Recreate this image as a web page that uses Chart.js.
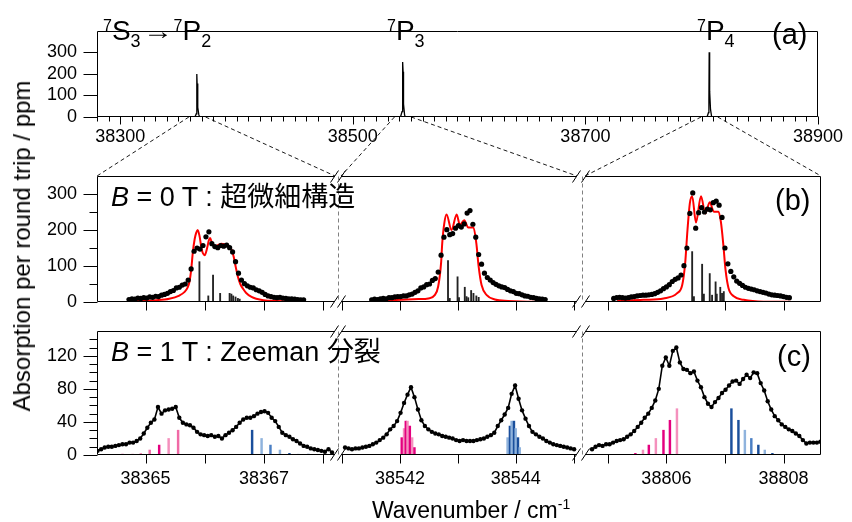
<!DOCTYPE html>
<html><head><meta charset="utf-8">
<script src="https://cdn.jsdelivr.net/npm/chart.js@4.4.0/dist/chart.umd.min.js"></script>
<style>
html,body{margin:0;padding:0;background:#fff;}
#wrap{position:relative;width:852px;height:522px;overflow:hidden;background:#fff;font-family:'Liberation Sans',Arial,'Noto Sans CJK JP',sans-serif;color:#000;}
canvas{position:absolute;left:0;top:0;}
.t{position:absolute;white-space:nowrap;line-height:1;}
.sm{position:relative;}
.arr{display:inline-block;transform:scaleX(1.25);margin:0 4px 0 5px;font-size:24px;position:relative;top:-1px;}
</style></head><body>
<div id="wrap">
<canvas id="cA" width="852" height="522"></canvas>
<canvas id="cB1" width="852" height="522"></canvas>
<canvas id="cB2" width="852" height="522"></canvas>
<canvas id="cB3" width="852" height="522"></canvas>
<canvas id="cC1" width="852" height="522"></canvas>
<canvas id="cC2" width="852" height="522"></canvas>
<canvas id="cC3" width="852" height="522"></canvas>
<canvas id="cOv" width="852" height="522"></canvas>

<div class="t" style="left:103px;top:17px;font-size:28px;"><span class="sm" style="font-size:16px;top:-9px;">7</span>S<span class="sm" style="font-size:18px;top:7px;">3</span><span class="arr">→</span><span class="sm" style="font-size:16px;top:-9px;">7</span>P<span class="sm" style="font-size:18px;top:7px;">2</span></div>
<div class="t" style="left:387px;top:17px;font-size:28px;"><span class="sm" style="font-size:16px;top:-9px;">7</span>P<span class="sm" style="font-size:18px;top:7px;">3</span></div>
<div class="t" style="left:697px;top:17px;font-size:28px;"><span class="sm" style="font-size:16px;top:-9px;">7</span>P<span class="sm" style="font-size:18px;top:7px;">4</span></div>
<div class="t" style="left:772px;top:20px;font-size:29px;">(a)</div>
<div class="t" style="left:775px;top:186px;font-size:29px;">(b)</div>
<div class="t" style="left:777px;top:342px;font-size:29px;">(c)</div>
<div class="t" style="left:111px;top:184px;font-size:27px;"><i>B</i> = 0 T : 超微細構造</div>
<div class="t" style="left:111px;top:339px;font-size:27px;"><i>B</i> = 1 T : Zeeman 分裂</div>
<div class="t" style="left:372px;top:499px;font-size:23px;">Wavenumber / cm<span class="sm" style="font-size:14px;top:-9px;">-1</span></div>
<div class="t" style="left:22px;top:246px;font-size:24px;transform:translate(-50%,-50%) rotate(-90deg);">Absorption per round trip / ppm</div>
</div>
<script>
// ================= DATA =================
// (a) overview spectrum
const aX = [38280, 38364.2, 38365.4, 38365.7, 38365.85, 38365.95, 38366.1, 38366.5, 38366.8, 38367.5, 38368.2,
  38541.0, 38542.3, 38542.7, 38542.85, 38543.0, 38543.25, 38543.6, 38544.5, 38545.1,
  38804.6, 38805.8, 38806.2, 38806.45, 38806.6, 38806.85, 38807.1, 38807.6, 38808.6, 38900];
const aY = [0, 0, 15, 45, 140, 200, 155, 150, 45, 12, 0,
  0, 25, 80, 200, 255, 210, 60, 10, 0,
  0, 20, 80, 300, 260, 270, 120, 35, 0, 0];
const aTickLabels = [38300, 38500, 38700, 38900];

// (b) B = 0 T, 7P2
const b1X = [38364.72,38364.77,38364.82,38364.87,38364.92,38364.97,38365.02,38365.07,38365.12,38365.17,
  38365.22,38365.27,38365.32,38365.37,38365.42,38365.47,38365.52,38365.57,38365.62,38365.67,
  38365.72,38365.77,38365.82,38365.87,38365.92,38365.97,38366.02,38366.07,38366.12,38366.17,
  38366.22,38366.27,38366.32,38366.37,38366.42,38366.47,38366.52,38366.57,38366.62,38366.67,
  38366.72,38366.77,38366.82,38366.87,38366.92,38366.97,38367.02,38367.07,38367.12,38367.17,
  38367.22,38367.27,38367.32,38367.37,38367.42,38367.47,38367.52,38367.57,38367.62,38367.67];
const b1Y = [7,9,8,11,10,12,11,14,13,16, 15,19,21,24,29,32,39,41,47,50, 61,92,141,150,147,157,181,195,162,154,
  151,157,155,158,151,139,112,80,61,51, 45,41,39,34,31,27,21,17,15,13, 12,13,11,10,9,9,8,7,6,6];
const b1FitX = [38364.72,38365.18,38365.40,38365.57,38365.66,38365.71,38365.74,38365.77,38365.80,38365.83,38365.855,38365.88,
  38365.91,38365.95,38366.00,38366.04,38366.07,38366.09,38366.12,38366.17,38366.22,38366.28,38366.34,38366.39,
  38366.45,38366.49,38366.52,38366.56,38366.60,38366.65,38366.70,38366.79,38366.87,38366.99,38367.21,38367.67];
const b1FitY = [2,5,9,18,28,40,55,88,140,175,192,200, 185,145,130,150,172,178,165,155,158,162,160,157,
  146,125,100,70,50,36,25,14,9,5,3,2];
const b1StickX = [38365.91,38366.06,38366.14,38366.26,38366.42,38366.45,38366.48,38366.52,38366.56,38366.59];
const b1StickY = [112,17,75,24,24,22,17,14,10,8];

// (b) 7P3
const b2X = [38541.51,38541.56,38541.61,38541.66,38541.71,38541.76,38541.81,38541.86,38541.91,38541.96,
  38542.01,38542.06,38542.11,38542.16,38542.21,38542.26,38542.31,38542.36,38542.41,38542.46,
  38542.51,38542.56,38542.61,38542.66,38542.71,38542.76,38542.81,38542.86,38542.91,38542.96,
  38543.01,38543.06,38543.11,38543.16,38543.21,38543.26,38543.31,38543.36,38543.41,38543.46,
  38543.51,38543.56,38543.61,38543.66,38543.71,38543.76,38543.81,38543.86,38543.91,38543.96,
  38544.01,38544.06,38544.11,38544.16,38544.21,38544.26,38544.31,38544.36,38544.41,38544.46,38544.51];
const b2Y = [6,8,7,9,10,9,12,12,14,15, 15,17,17,20,22,27,31,39,42,48, 50,60,65,83,130,180,201,187,190,205,
  212,208,217,247,254,216,180,132,105,80, 68,61,54,49,45,42,40,35,31,29, 24,23,20,17,16,13,12,10,9,8, 7];
const b2FitX = [38541.57,38542.03,38542.32,38542.49,38542.60,38542.66,38542.71,38542.73,38542.765,38542.805,
  38542.89,38542.98,38543.035,38543.11,38543.18,38543.27,38543.32,38543.36,38543.41,38543.50,38543.64,38543.87,38544.33,38544.50];
const b2FitY = [3,6,8,10,19,43,108,163,218,243, 200,243,214,227,207,207,163,98,47,19,7,3,1,1];
const b2StickX = [38542.83,38542.86,38542.995,38543.02,38543.12,38543.15,38543.18,38543.23,38543.27,38543.32,38543.36];
const b2StickY = [115,10,70,12,41,15,12,32,24,17,13];

// (b) 7P4
const b3X = [38805.10,38805.15,38805.20,38805.25,38805.30,38805.35,38805.40,38805.45,38805.50,38805.55,
  38805.60,38805.65,38805.70,38805.75,38805.80,38805.85,38805.90,38805.95,38806.00,38806.05,
  38806.10,38806.15,38806.20,38806.25,38806.30,38806.35,38806.40,38806.45,38806.50,38806.55,
  38806.60,38806.65,38806.70,38806.75,38806.80,38806.85,38806.90,38806.95,38807.00,38807.05,
  38807.10,38807.15,38807.20,38807.25,38807.30,38807.35,38807.40,38807.45,38807.50,38807.55,
  38807.60,38807.65,38807.70,38807.75,38807.80,38807.85,38807.90,38807.95,38808.00,38808.05,38808.10];
const b3Y = [10,12,13,12,11,12,14,15,17,18, 19,19,20,21,23,27,31,37,42,48, 57,63,67,75,101,150,246,303,205,248,
  262,250,258,256,276,280,269,235,150,106, 85,70,58,52,46,41,38,36,34,31, 29,27,25,22,20,19,18,17,15,13, 12];
const b3FitX = [38805.16,38805.61,38805.95,38806.18,38806.27,38806.32,38806.36,38806.40,38806.44,38806.505,
  38806.59,38806.665,38806.74,38806.81,38806.89,38806.93,38806.97,38807.01,38807.06,38807.15,38807.32,38807.66,38808.12];
const b3FitY = [3,6,10,24,47,107,200,274,294,221, 294,246,277,251,251,223,163,89,39,16,6,1,1];
const b3StickX = [38806.44,38806.47,38806.61,38806.64,38806.74,38806.78,38806.84,38806.86,38806.92,38806.95,38806.98];
const b3StickY = [140,15,105,22,79,19,56,22,41,24,29];

// (c) B = 1 T, 7P2
const c1X = [38364.19,38364.25,38364.31,38364.37,38364.43,38364.49,38364.55,38364.61,38364.67,38364.73,
  38364.79,38364.85,38364.91,38364.97,38365.03,38365.09,38365.15,38365.21,38365.27,38365.33,
  38365.39,38365.45,38365.51,38365.57,38365.63,38365.69,38365.75,38365.81,38365.87,38365.93,
  38365.99,38366.05,38366.11,38366.17,38366.23,38366.29,38366.35,38366.41,38366.47,38366.53,
  38366.59,38366.65,38366.71,38366.77,38366.83,38366.89,38366.95,38367.01,38367.07,38367.13,
  38367.19,38367.25,38367.31,38367.37,38367.43,38367.49,38367.55,38367.61,38367.67,38367.73,
  38367.79,38367.85,38367.91,38367.97,38368.03,38368.09,38368.15];
const c1Y = [5,7,9,10,10,11,12,13,13,15, 15,17,20,26,33,39,43,58,50,54, 55,56,58,45,39,37,36,33,28,25,
  24,23,24,22,23,20,24,27,30,34, 39,43,45,45,47,50,52,53,51,45, 41,34,27,24,22,19,17,14,11,10, 8,7,6,5,4,7,3];
const c1StickX = [38364.61,38364.78,38364.92,38365.07,38365.23,38365.39,38365.55,
  38366.80,38366.96,38367.11,38367.27,38367.43,38367.58,38367.75];
const c1StickY = [1,1,2,6,12,20,30, 30,20,12,6,2,1,1];

// (c) 7P3
const c2X = [38541.05,38541.11,38541.17,38541.23,38541.29,38541.35,38541.41,38541.47,38541.53,38541.59,
  38541.65,38541.71,38541.77,38541.83,38541.89,38541.95,38542.01,38542.07,38542.13,38542.19,
  38542.25,38542.31,38542.37,38542.43,38542.49,38542.55,38542.61,38542.67,38542.73,38542.79,
  38542.85,38542.91,38542.97,38543.03,38543.09,38543.15,38543.21,38543.27,38543.33,38543.39,
  38543.45,38543.51,38543.57,38543.63,38543.69,38543.75,38543.81,38543.87,38543.93,38543.99,
  38544.05,38544.11,38544.17,38544.23,38544.29,38544.35,38544.41,38544.47,38544.53,38544.59,
  38544.65,38544.71,38544.77,38544.83,38544.89,38544.95,38545.01];
const c2Y = [9,8,7,8,8,9,10,11,13,15, 18,21,25,31,35,41,51,63,73,82, 70,55,42,35,31,28,26,25,23,22,
  21,20,18,17,18,17,17,17,18,19, 20,22,24,27,35,42,49,57,74,84, 68,54,44,35,28,25,22,20,17,15, 13,12,11,10,9,8,7];
const c2StickX = [38542.03,38542.07,38542.10,38542.13,38542.17,38542.21,38542.25,
  38543.86,38543.90,38543.93,38543.97,38544.00,38544.04,38544.07];
const c2StickY = [21,32,41,41,35,21,9, 21,35,41,41,32,21,9];

// (c) 7P4
const c3X = [38804.73,38804.79,38804.85,38804.91,38804.97,38805.03,38805.09,38805.15,38805.21,38805.27,
  38805.33,38805.39,38805.45,38805.51,38805.57,38805.63,38805.69,38805.75,38805.81,38805.87,
  38805.93,38805.99,38806.05,38806.11,38806.17,38806.23,38806.29,38806.35,38806.41,38806.47,
  38806.53,38806.59,38806.65,38806.71,38806.77,38806.83,38806.89,38806.95,38807.01,38807.07,
  38807.13,38807.19,38807.25,38807.31,38807.37,38807.43,38807.49,38807.55,38807.61,38807.67,
  38807.73,38807.79,38807.85,38807.91,38807.97,38808.03,38808.09,38808.15,38808.21,38808.27,
  38808.33,38808.39,38808.45,38808.51,38808.57,38808.63];
const c3Y = [7,10,12,11,13,13,15,17,18,19, 22,25,29,34,39,45,50,57,66,80, 108,118,108,126,130,112,104,103,99,101,
  90,82,70,62,58,64,69,75,79,84, 89,90,86,92,97,93,100,99,87,78, 65,55,47,42,37,34,31,29,26,23, 18,14,15,15,15,16];
const c3StickX = [38805.47,38805.60,38805.70,38805.82,38805.95,38806.06,38806.18,
  38807.11,38807.23,38807.34,38807.45,38807.57,38807.68,38807.81];
const c3StickY = [2,6,12,20,30,42,56, 56,42,30,20,12,6,2];

// axis ranges and tick labels for the broken axes
const segRanges = [[38364.18, 38368.20], [38540.98, 38545.06], [38804.61, 38808.64]];
const cTickLabels = [[38365, 38367], [38542, 38544], [38806, 38808]];
const bYLabels = [0, 100, 200, 300];
const cYLabels = [0, 40, 80, 120];
const aYLabels = [0, 100, 200, 300];

// ================= STYLE =================
const HOT = '#e4007f', PMID = '#f06aa6', PLT = '#f490bd';
const BDK = '#1a4f9c', BMD = '#4a7fc4', BLT = '#8fb3dd';
const c1Colors = [HOT, PMID, PLT, PMID, HOT, PLT, PMID, BDK, BLT, BMD, BLT, BDK, BLT, BDK];
const c2Colors = [HOT, PLT, HOT, PLT, HOT, PLT, HOT, BLT, BDK, BLT, BDK, BLT, BDK, BLT];
const c3Colors = [HOT, PLT, HOT, PLT, HOT, HOT, PLT, BDK, BDK, BLT, BMD, BDK, BLT, BDK];

const W = 852, H = 522, X_H = 40;
Chart.defaults.font.family = "'Liberation Sans', Arial, sans-serif";
Chart.defaults.font.size = 18;
Chart.defaults.color = '#000';

const pts = (xs, ys) => xs.map((x, i) => ({x, y: ys[i]}));

const deco = {
  id: 'deco',
  afterDraw(chart, args, o) {
    const ctx = chart.ctx, ca = chart.chartArea;
    const L = Math.round(ca.left) + 0.5, R = Math.round(ca.right) - 0.5;
    const T = Math.round(ca.top) + 0.5, Bm = Math.round(ca.bottom) - 0.5;
    const ln = (x1, y1, x2, y2) => { ctx.beginPath(); ctx.moveTo(x1, y1); ctx.lineTo(x2, y2); ctx.stroke(); };
    ctx.save();
    ctx.strokeStyle = '#000'; ctx.lineWidth = 1; ctx.setLineDash([]);
    ln(L, T, R, T); ln(L, Bm, R, Bm);
    if (o.left) ln(L, T, L, Bm);
    if (o.right) ln(R, T, R, Bm);
    const xs = chart.scales.x, ys = chart.scales.y;
    xs.ticks.forEach(t => {
      const p = Math.round(xs.getPixelForValue(t.value)) + 0.5;
      const len = t.label !== '' ? o.xMajor : o.xMinor;
      ln(p, Bm, p, Bm + len);
    });
    if (o.left) ys.ticks.forEach(t => {
      if (t.value >= ys.max) return;
      const p = Math.round(ys.getPixelForValue(t.value)) + 0.5;
      const len = t.label !== '' ? o.yMajor : o.yMinor;
      ln(L - len, p, L, p);
    });
    const slash = (x, y) => ln(x - 4, y + 6, x + 4, y - 6);
    if (o.breakL) { slash(L, T); slash(L, Bm); }
    if (o.breakR) { slash(R, T); slash(R, Bm); }
    if (o.dash) {
      ctx.strokeStyle = '#808080'; ctx.setLineDash([4, 3]);
      ln(L - 3, T, L - 3, Bm);
    }
    ctx.restore();
  }
};

function makeChart(id, p) {
  return new Chart(document.getElementById(id), {
    type: 'scatter',
    data: { datasets: p.datasets },
    options: {
      responsive: false, animation: false, devicePixelRatio: 1, events: [],
      layout: { padding: { left: p.showY ? 0 : p.l, right: W - p.r, top: p.t, bottom: H - p.b - X_H } },
      plugins: { legend: { display: false }, tooltip: { enabled: false }, deco: p.deco },
      scales: {
        x: {
          type: 'linear', min: p.xr[0], max: p.xr[1], offset: false,
          grid: { display: false, drawTicks: false }, border: { display: false },
          ticks: { stepSize: p.xStep, includeBounds: false, autoSkip: false, maxRotation: 0, minRotation: 0,
            padding: p.xPad, color: '#000', font: { size: 18 },
            callback: v => p.xLabels.includes(v) ? String(v) : '' },
          afterFit: s => { s.height = X_H; }
        },
        y: {
          type: 'linear', display: p.showY, min: p.yr[0], max: p.yr[1],
          grid: { display: false, drawTicks: false }, border: { display: false },
          ticks: { stepSize: p.yStep, includeBounds: false, autoSkip: false, padding: 20, color: '#000', font: { size: 18 },
            callback: v => p.yLabels.includes(v) ? String(v) : '' },
          afterFit: s => { if (p.showY) s.width = p.l; }
        }
      }
    },
    plugins: [deco]
  });
}

const SEG = [{l: 97, r: 335}, {l: 341, r: 577}, {l: 585, r: 821}];
const decoFor = i => ({ left: i === 0, right: i === 2, breakL: i > 0, breakR: i < 2, dash: i > 0,
  xMajor: 9, xMinor: 9, yMajor: 14, yMinor: 8 });

// (a)
const chA = makeChart('cA', {
  l: 97, r: 821, t: 16, b: 117, showY: true, xr: [38280, 38900], yr: [0, 400], xStep: 10, yStep: 100,
  xLabels: aTickLabels, yLabels: aYLabels, xPad: 9,
  deco: { left: true, right: true, xMajor: 8, xMinor: 5, yMajor: 14, yMinor: 8 },
  datasets: [{ type: 'line', data: pts(aX, aY), borderColor: '#000', borderWidth: 1.3, pointRadius: 0, tension: 0 }]
});

// (b)
const bData = [[b1X, b1Y, b1FitX, b1FitY, b1StickX, b1StickY], [b2X, b2Y, b2FitX, b2FitY, b2StickX, b2StickY],
  [b3X, b3Y, b3FitX, b3FitY, b3StickX, b3StickY]];
const chB = bData.map((d, i) => makeChart('cB' + (i + 1), {
  l: SEG[i].l, r: SEG[i].r, t: 176, b: 302, showY: i === 0, xr: segRanges[i], yr: [0, 350], xStep: 1, yStep: 50,
  xLabels: [], yLabels: bYLabels, xPad: 13, deco: decoFor(i),
  datasets: [
    { type: 'scatter', data: pts(d[0], d[1]), pointRadius: 2.6, pointBackgroundColor: '#000', pointBorderWidth: 0, showLine: false },
    { type: 'bar', data: pts(d[4], d[5]), backgroundColor: '#222', barThickness: 1.2, grouped: false, borderWidth: 0 },
    { type: 'line', data: pts(d[2], d[3]), borderColor: '#ff0000', borderWidth: 2, pointRadius: 0, cubicInterpolationMode: 'monotone', fill: false }
  ]
}));

// (c)
const cData = [[c1X, c1Y, c1StickX, c1StickY, c1Colors], [c2X, c2Y, c2StickX, c2StickY, c2Colors],
  [c3X, c3Y, c3StickX, c3StickY, c3Colors]];
const chC = cData.map((d, i) => makeChart('cC' + (i + 1), {
  l: SEG[i].l, r: SEG[i].r, t: 331, b: 455, showY: i === 0, xr: segRanges[i], yr: [0, 150], xStep: 1, yStep: 10,
  xLabels: cTickLabels[i], yLabels: cYLabels, xPad: 13, deco: decoFor(i),
  datasets: [
    { type: 'line', data: pts(d[0], d[1]), borderColor: '#000', borderWidth: 1.6, pointRadius: 2.2,
      pointBackgroundColor: '#000', pointBorderWidth: 0, tension: 0 },
    { type: 'bar', data: pts(d[2], d[3]), backgroundColor: d[4], barThickness: 1.8, grouped: false, borderWidth: 0 }
  ]
}));

// connectors from (a) to (b)
(function () {
  const ctx = document.getElementById('cOv').getContext('2d');
  const ax = chA.scales.x, yb = chA.chartArea.bottom;
  ctx.strokeStyle = '#000'; ctx.lineWidth = 0.9; ctx.setLineDash([4, 3]);
  chB.forEach(ch => {
    const s = ch.scales.x, ca = ch.chartArea;
    const p1 = ax.getPixelForValue(s.min) - 6, p2 = ax.getPixelForValue(s.max) + 6;
    ctx.beginPath(); ctx.moveTo(p1, yb); ctx.lineTo(ca.left, ca.top); ctx.stroke();
    ctx.beginPath(); ctx.moveTo(p2, yb); ctx.lineTo(ca.right, ca.top); ctx.stroke();
  });
})();
</script>
</body></html>
